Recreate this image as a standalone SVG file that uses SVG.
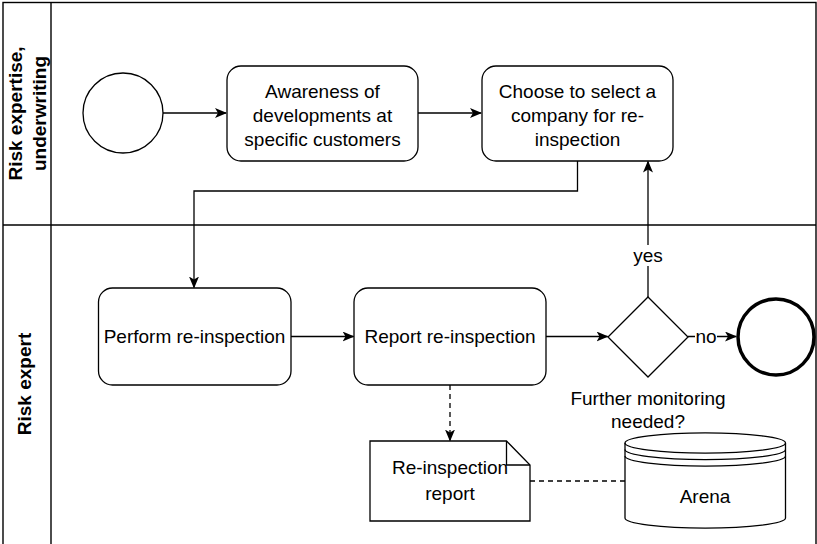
<svg xmlns="http://www.w3.org/2000/svg" width="817" height="544" viewBox="0 0 817 544">
  <style>
    .shape { fill: #ffffff; stroke: #000000; stroke-width: 1.3; }
    .lane { fill: none; stroke: #000000; stroke-width: 1.4; }
    .edge { fill: none; stroke: #000000; stroke-width: 1.3; }
    .dash { stroke-dasharray: 5 4; }
    .txt { font-family: "Liberation Sans", Arial, Helvetica, sans-serif; font-size: 19px; fill: #000000; text-anchor: middle; }
    .lanetxt { font-family: "Liberation Sans", Arial, Helvetica, sans-serif; font-size: 19px; font-weight: bold; fill: #000000; text-anchor: middle; }
  </style>
  <defs>
    <marker id="arrow" viewBox="0 0 12 10" refX="11" refY="5" markerWidth="12" markerHeight="10" markerUnits="userSpaceOnUse" orient="auto">
      <path d="M0,0 L12,5 L0,10 L3,5 Z" fill="#000000"/>
    </marker>
  </defs>
  <rect x="0" y="0" width="817" height="544" fill="#ffffff"/>

  <!-- pool and lanes -->
  <g id="pool">
    <rect class="lane" x="3" y="2.5" width="813" height="560"/>
    <line class="lane" x1="51" y1="2.5" x2="51" y2="544"/>
    <line class="lane" x1="3" y1="225" x2="816" y2="225"/>
  </g>
  <g id="lane-underwriting">
    <text class="lanetxt" transform="translate(27,113.5) rotate(-90)"><tspan x="0" y="-5">Risk expertise,</tspan><tspan x="0" y="19">underwriting</tspan></text>
  </g>
  <g id="lane-expert">
    <text class="lanetxt" transform="translate(27,384) rotate(-90)"><tspan x="0" y="4">Risk expert</tspan></text>
  </g>

  <!-- connectors -->
  <g id="connectors">
    <line class="edge" x1="163" y1="113" x2="226" y2="113" marker-end="url(#arrow)"/>
    <line class="edge" x1="418" y1="113" x2="481" y2="113" marker-end="url(#arrow)"/>
    <polyline class="edge" points="577.5,161 577.5,191 194,191 194,287.5" marker-end="url(#arrow)"/>
    <line class="edge" x1="291" y1="336.5" x2="353.5" y2="336.5" marker-end="url(#arrow)"/>
    <line class="edge" x1="546" y1="336.5" x2="607.5" y2="336.5" marker-end="url(#arrow)"/>
    <line class="edge" x1="648" y1="297" x2="648" y2="161.5" marker-end="url(#arrow)"/>
    <line class="edge" x1="688" y1="336.5" x2="736" y2="336.5" marker-end="url(#arrow)"/>
    <line class="edge dash" x1="450" y1="385" x2="450" y2="440.5" marker-end="url(#arrow)"/>
    <line class="edge dash" x1="530" y1="481" x2="625" y2="481"/>
    <rect x="633" y="245" width="30" height="21" fill="#ffffff"/>
    <text class="txt" x="648" y="262">yes</text>
    <rect x="695" y="327" width="22" height="18" fill="#ffffff"/>
    <text class="txt" x="706" y="343">no</text>
  </g>

  <!-- nodes -->
  <g id="start">
    <circle class="shape" cx="123" cy="113" r="40"/>
  </g>
  <g id="awareness">
    <rect class="shape" x="227" y="66" width="191" height="95" rx="14"/>
    <text class="txt" x="322.5" y="98">Awareness of</text>
    <text class="txt" x="322.5" y="122">developments at</text>
    <text class="txt" x="322.5" y="146">specific customers</text>
  </g>
  <g id="choose">
    <rect class="shape" x="482" y="66" width="191" height="95" rx="14"/>
    <text class="txt" x="577.5" y="98">Choose to select a</text>
    <text class="txt" x="577.5" y="122">company for re-</text>
    <text class="txt" x="577.5" y="146">inspection</text>
  </g>
  <g id="perform">
    <rect class="shape" x="98.5" y="288" width="192.5" height="97" rx="14"/>
    <text class="txt" x="194.5" y="343">Perform re-inspection</text>
  </g>
  <g id="report">
    <rect class="shape" x="354" y="288" width="192" height="97" rx="14"/>
    <text class="txt" x="450" y="343">Report re-inspection</text>
  </g>
  <g id="gateway">
    <polygon class="shape" points="648,297 688,337 648,377 608,337"/>
    <text class="txt" x="648" y="405">Further monitoring</text>
    <text class="txt" x="648" y="428">needed?</text>
  </g>
  <g id="end">
    <circle cx="776" cy="337" r="38" fill="#ffffff" stroke="#000000" stroke-width="3.5"/>
  </g>
  <g id="report-doc">
    <path class="shape" d="M370,441 L506.5,441 L530,465 L530,521 L370,521 Z"/>
    <path class="edge" d="M506.5,441 L506.5,465 L530,465"/>
    <text class="txt" x="450" y="474">Re-inspection</text>
    <text class="txt" x="450" y="500">report</text>
  </g>
  <g id="arena">
    <path class="shape" d="M625,443 A80,10 0 0 1 785.5,443 L785.5,518 A80,10 0 0 1 625,518 Z"/>
    <path class="edge" d="M625,443 A80,10 0 0 0 785.5,443"/>
    <path class="edge" d="M625,449.5 A80,10 0 0 0 785.5,449.5"/>
    <path class="edge" d="M625,456 A80,10 0 0 0 785.5,456"/>
    <text class="txt" x="705" y="503">Arena</text>
  </g>
</svg>
